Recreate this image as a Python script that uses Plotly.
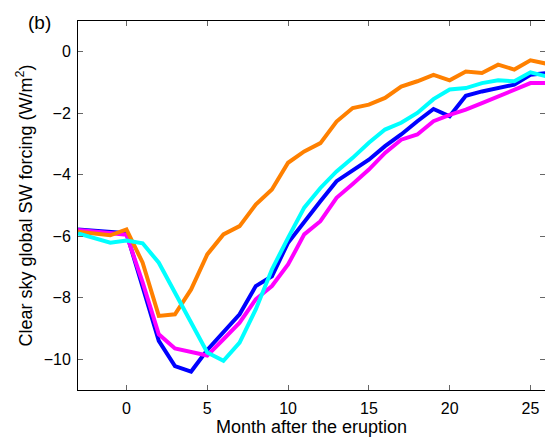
import plotly.graph_objects as go

# Months relative to the eruption
months = list(range(-3, 27))

# Clear-sky global SW forcing (W/m^2) for each experiment
blue_vals = [-5.78, -5.82, -5.88, -5.90, -7.65, -9.40, -10.22, -10.40, -9.70, -9.13,
             -8.54, -7.62, -7.30, -6.21, -5.51, -4.86, -4.21, -3.87, -3.51, -3.07,
             -2.69, -2.26, -1.86, -2.10, -1.43, -1.29, -1.18, -1.07, -0.75, -0.69]
magenta_vals = [-5.80, -5.85, -5.90, -5.95, -7.50, -9.19, -9.65, -9.78, -9.88, -9.35,
                -8.81, -8.05, -7.62, -6.92, -5.94, -5.51, -4.75, -4.30, -3.83, -3.29,
                -2.86, -2.69, -2.26, -2.05, -1.88, -1.67, -1.45, -1.23, -1.02, -1.02]
orange_vals = [-5.85, -5.90, -5.97, -5.78, -6.86, -8.59, -8.54, -7.73, -6.59, -5.94,
               -5.67, -4.97, -4.48, -3.61, -3.24, -2.97, -2.27, -1.83, -1.72, -1.50,
               -1.13, -0.96, -0.75, -0.93, -0.64, -0.69, -0.42, -0.58, -0.28, -0.39]
cyan_vals = [-5.91, -6.05, -6.21, -6.14, -6.23, -6.86, -7.84, -8.81, -9.78, -10.05,
             -9.46, -8.38, -7.08, -6.05, -5.07, -4.43, -3.89, -3.45, -2.96, -2.53,
             -2.31, -1.99, -1.54, -1.23, -1.18, -1.02, -0.93, -0.96, -0.67, -0.80]

x_ticks = [0, 5, 10, 15, 20, 25]
y_ticks = [0, -2, -4, -6, -8, -10]
y_tick_text = ["0", "\u22122", "\u22124", "\u22126", "\u22128", "\u221210"]

series = [
    (blue_vals, "#0000ff"),
    (magenta_vals, "#ff00ff"),
    (orange_vals, "#ff8000"),
    (cyan_vals, "#00ffff"),
]

fig = go.Figure()
for vals, color in series:
    fig.add_trace(go.Scatter(x=months, y=vals, mode="lines",
                             line=dict(color=color, width=4),
                             showlegend=False, hoverinfo="skip"))

# empty trace so the right-hand tick axis is drawn
fig.add_trace(go.Scatter(x=[None], y=[None], yaxis="y2", showlegend=False))

font = "Liberation Sans, Arial, Helvetica, sans-serif"

# plot area in pixels
left, top, bottom = 78, 21, 51
plot_w = 545 - left
plot_h = 441 - top - bottom

fig.update_layout(
    width=545, height=441,
    margin=dict(l=left, r=0, t=top, b=bottom),
    paper_bgcolor="white", plot_bgcolor="white",
    font=dict(family=font, size=16, color="black"),
    xaxis=dict(
        range=[-3, 25.9], tickvals=x_ticks, ticks="inside", ticklen=5,
        tickcolor="#666", tickwidth=1, showline=True, linecolor="black",
        linewidth=1, mirror="ticks", showgrid=False, zeroline=False,
        tickfont=dict(size=16), ticklabelstandoff=4,
        title=dict(text="Month after the eruption", font=dict(size=18), standoff=3),
    ),
    yaxis=dict(
        range=[-11, 1], tickvals=y_ticks, ticktext=y_tick_text, ticks="inside",
        ticklen=5, tickcolor="#666", tickwidth=1, showline=True,
        linecolor="black", linewidth=1, mirror=False, showgrid=False,
        zeroline=False, tickfont=dict(size=16), ticklabelstandoff=3,
        title=dict(text="Clear sky global SW forcing (W/m<sup>2</sup>)",
                   font=dict(size=18), standoff=6),
    ),
    yaxis2=dict(
        overlaying="y", side="right", range=[-11, 1], tickvals=y_ticks,
        ticks="inside", ticklen=5, tickcolor="#666", tickwidth=1,
        showticklabels=False, showline=False, showgrid=False, zeroline=False,
    ),
    annotations=[dict(text="(b)", xref="paper", yref="paper",
                      x=(39 - left) / plot_w, y=1 - 1.5 / plot_h,
                      xanchor="center", yanchor="middle",
                      showarrow=False, font=dict(size=19))],
)

fig.write_html("out.html")
